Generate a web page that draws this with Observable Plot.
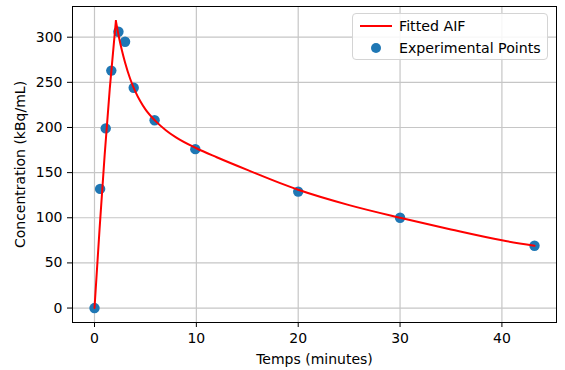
<!DOCTYPE html>
<html>
<head>
<meta charset="utf-8">
<script src="https://cdn.jsdelivr.net/npm/d3@7"></script>
<script src="https://cdn.jsdelivr.net/npm/@observablehq/plot@0.6"></script>
<style>
  html, body { margin: 0; padding: 0; background: #fff; }
  #chart { position: relative; width: 565px; height: 370px; font-family: "DejaVu Sans", sans-serif; }
  #chart svg text { font-family: "DejaVu Sans", sans-serif; font-size: 14px; fill: #000; }
  .legend {
    position: absolute; left: 352px; top: 13px; width: 196px; height: 47px;
    border: 1px solid #d4d4d4; border-radius: 4px; background: rgba(255,255,255,0.85);
    font-size: 14.2px; color: #000; box-sizing: border-box;
  }
  .legend .row { position: absolute; left: 0; display: flex; align-items: center; height: 18px; white-space: nowrap; }
  .legend .sw { width: 46px; display: flex; justify-content: center; align-items: center; }
</style>
</head>
<body>
<div id="chart"></div>
<script>
// Measured arterial input: time (min) and activity concentration (kBq/mL)
const sampleTime = [0, 0.55, 1.1, 1.65, 2.35, 3.0, 3.85, 5.9, 9.9, 20, 30, 43.2];
const sampleConc = [0, 132, 199, 263, 306, 295, 244, 208, 176, 129, 100, 69];

// Fitted AIF curve, sampled along time
const fitTime = [0, 0.5, 1.0, 1.5, 2.1, 2.4, 2.7, 3.0, 3.5, 4.0, 4.5, 5.0, 6.0, 7.0, 8.0, 10, 12, 15, 20, 25, 30, 35, 40, 43.2];
const fitConc = [0, 88, 170, 243, 318, 300, 285, 272, 254, 240, 229, 220, 207, 197, 189, 177, 167, 153, 131, 114, 100, 87, 75, 69];

const xTicks = [0, 10, 20, 30, 40];
const yTicks = [0, 50, 100, 150, 200, 250, 300];

const samples = sampleTime.map((t, i) => ({t, c: sampleConc[i]}));
// split the fit at its peak so the cusp stays sharp
const peak = fitConc.indexOf(d3.max(fitConc));
const fit = [];
fitTime.forEach((t, i) => {
  if (i <= peak) fit.push({t, c: fitConc[i], seg: "rise"});
  if (i >= peak) fit.push({t, c: fitConc[i], seg: "decay"});
});

const plot = Plot.plot({
  width: 565,
  height: 370,
  marginLeft: 72,
  marginRight: 9,
  marginTop: 6,
  marginBottom: 48,
  style: {fontFamily: "DejaVu Sans, sans-serif", fontSize: "14px", color: "#000", background: "#fff"},
  x: {domain: [-2.16, 45.36]},
  y: {domain: [-16, 334]},
  marks: [
    Plot.gridX(xTicks, {stroke: "#c6c6c6", strokeOpacity: 1, strokeWidth: 1.2}),
    Plot.gridY(yTicks, {stroke: "#c6c6c6", strokeOpacity: 1, strokeWidth: 1.2}),
    Plot.axisX({ticks: xTicks, tickSize: 5, tickPadding: 6, label: "Temps (minutes)", labelAnchor: "center", labelArrow: "none", labelOffset: 41}),
    Plot.axisY({ticks: yTicks, tickSize: 5, tickPadding: 5, label: "Concentration (kBq/mL)", labelAnchor: "center", labelArrow: "none", labelOffset: 57}),
    Plot.dot(samples, {x: "t", y: "c", r: 5.2, fill: "#1f77b4", stroke: "none"}),
    Plot.line(fit, {x: "t", y: "c", z: "seg", stroke: "#ff0000", strokeWidth: 2, curve: "monotone-x"}),
    Plot.frame({stroke: "#000", strokeWidth: 1})
  ]
});
document.getElementById("chart").appendChild(plot);

// legend box in the upper right corner
const legend = document.createElement("div");
legend.className = "legend";
legend.innerHTML = `
  <div class="row" style="top:3px"><div class="sw"><svg width="32" height="4"><line x1="0" y1="2" x2="32" y2="2" stroke="#ff0000" stroke-width="2"/></svg></div><span>Fitted AIF</span></div>
  <div class="row" style="top:25px"><div class="sw"><svg width="12" height="12"><circle cx="6" cy="6" r="5" fill="#1f77b4"/></svg></div><span>Experimental Points</span></div>`;
document.getElementById("chart").appendChild(legend);
</script>
</body>
</html>
